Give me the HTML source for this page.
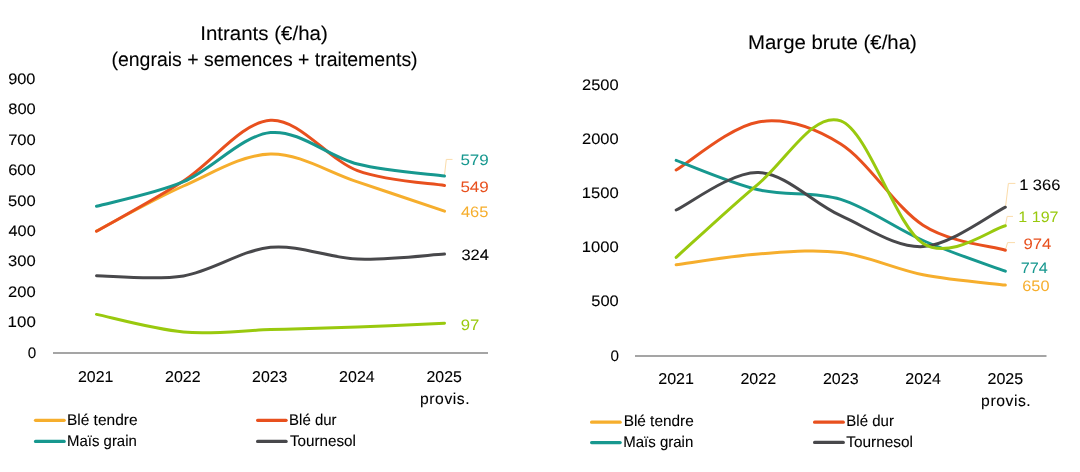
<!DOCTYPE html>
<html><head><meta charset="utf-8"><style>
html,body{margin:0;padding:0;background:#fff;width:1080px;height:472px;overflow:hidden}
svg{display:block;will-change:transform}
text{font-family:"Liberation Sans", sans-serif;text-rendering:geometricPrecision}
</style></head><body>
<svg width="1080" height="472" viewBox="0 0 1080 472">
<rect width="1080" height="472" fill="#fff"/>
<line x1="53.0" y1="353.0" x2="488.0" y2="353.0" stroke="#a5a5a5" stroke-width="2"/>
<line x1="635.0" y1="356.0" x2="1046.5" y2="356.0" stroke="#a5a5a5" stroke-width="2"/>
<polyline points="444.4,176.1 446.3,159.4 452.5,159.4" fill="none" stroke="#fbdcaa" stroke-width="1"/>
<polyline points="1005.5,207 1008.4,183.4 1015.4,183.4" fill="none" stroke="#fbdcaa" stroke-width="1"/>
<polyline points="1005.3,225.7 1007.2,216.4 1013,216.4" fill="none" stroke="#fbdcaa" stroke-width="1"/>
<polyline points="1005.4,250 1007.6,242.6 1015,242.6" fill="none" stroke="#fbdcaa" stroke-width="1"/>
<path d="M96.50,231.00 C111.00,223.50 154.50,198.83 183.50,186.00 C212.50,173.17 241.50,154.68 270.50,154.00 C299.50,153.32 328.50,172.37 357.50,181.90 C386.50,191.43 430.00,206.32 444.50,211.20" fill="none" stroke="#f6ae2d" stroke-width="3.0" stroke-linecap="round" stroke-linejoin="round"/>
<path d="M96.50,231.30 C111.00,222.92 154.50,199.50 183.50,181.00 C212.50,162.50 241.50,122.03 270.50,120.30 C299.50,118.57 328.50,159.75 357.50,170.60 C386.50,181.45 430.00,182.93 444.50,185.40" fill="none" stroke="#e8501e" stroke-width="3.0" stroke-linecap="round" stroke-linejoin="round"/>
<path d="M96.50,206.30 C111.00,202.20 154.50,193.98 183.50,181.70 C212.50,169.42 241.50,135.55 270.50,132.60 C299.50,129.65 328.50,156.75 357.50,164.00 C386.50,171.25 430.00,174.08 444.50,176.10" fill="none" stroke="#17988f" stroke-width="3.0" stroke-linecap="round" stroke-linejoin="round"/>
<path d="M96.50,275.80 C111.00,275.82 154.50,280.65 183.50,275.90 C212.50,271.15 241.50,250.10 270.50,247.30 C299.50,244.50 328.50,257.97 357.50,259.10 C386.50,260.23 430.00,254.93 444.50,254.10" fill="none" stroke="#48484b" stroke-width="3.0" stroke-linecap="round" stroke-linejoin="round"/>
<path d="M96.50,314.40 C111.00,317.33 154.50,329.47 183.50,332.00 C212.50,334.53 241.50,330.45 270.50,329.60 C299.50,328.75 328.50,327.95 357.50,326.90 C386.50,325.85 430.00,323.90 444.50,323.30" fill="none" stroke="#99c90e" stroke-width="3.0" stroke-linecap="round" stroke-linejoin="round"/>
<path d="M676.15,264.70 C689.87,262.92 731.02,256.03 758.45,254.00 C785.88,251.97 813.32,249.03 840.75,252.50 C868.18,255.97 895.62,269.37 923.05,274.80 C950.48,280.23 991.63,283.38 1005.35,285.10" fill="none" stroke="#f6ae2d" stroke-width="3.0" stroke-linecap="round" stroke-linejoin="round"/>
<path d="M676.15,170.00 C689.87,161.98 731.02,126.22 758.45,121.90 C785.88,117.58 813.32,126.88 840.75,144.10 C868.18,161.32 895.62,207.52 923.05,225.20 C950.48,242.88 991.63,246.03 1005.35,250.20" fill="none" stroke="#e8501e" stroke-width="3.0" stroke-linecap="round" stroke-linejoin="round"/>
<path d="M676.15,160.40 C689.87,165.30 731.02,183.30 758.45,189.80 C785.88,196.30 813.32,190.95 840.75,199.40 C868.18,207.85 895.62,228.53 923.05,240.50 C950.48,252.47 991.63,266.08 1005.35,271.20" fill="none" stroke="#17988f" stroke-width="3.0" stroke-linecap="round" stroke-linejoin="round"/>
<path d="M676.15,210.00 C689.87,203.75 731.02,171.55 758.45,172.50 C785.88,173.45 813.32,203.35 840.75,215.70 C868.18,228.05 895.62,248.02 923.05,246.60 C950.48,245.18 991.63,213.77 1005.35,207.20" fill="none" stroke="#48484b" stroke-width="3.0" stroke-linecap="round" stroke-linejoin="round"/>
<path d="M676.15,257.40 C689.87,245.13 731.02,206.55 758.45,183.80 C785.88,161.05 813.32,110.97 840.75,120.90 C868.18,130.83 895.62,225.92 923.05,243.40 C950.48,260.88 991.63,228.73 1005.35,225.80" fill="none" stroke="#99c90e" stroke-width="3.0" stroke-linecap="round" stroke-linejoin="round"/>
<line x1="35.5" y1="420.3" x2="64.2" y2="420.3" stroke="#f6ae2d" stroke-width="3.2" stroke-linecap="round"/>
<line x1="35.5" y1="441.4" x2="64.2" y2="441.4" stroke="#17988f" stroke-width="3.2" stroke-linecap="round"/>
<line x1="257.6" y1="420.3" x2="286.1" y2="420.3" stroke="#e8501e" stroke-width="3.2" stroke-linecap="round"/>
<line x1="257.6" y1="441.4" x2="286.1" y2="441.4" stroke="#48484b" stroke-width="3.2" stroke-linecap="round"/>
<line x1="591.6" y1="422.2" x2="620.2" y2="422.2" stroke="#f6ae2d" stroke-width="3.2" stroke-linecap="round"/>
<line x1="591.6" y1="442.6" x2="620.2" y2="442.6" stroke="#17988f" stroke-width="3.2" stroke-linecap="round"/>
<line x1="814.6" y1="422.2" x2="843.3" y2="422.2" stroke="#e8501e" stroke-width="3.2" stroke-linecap="round"/>
<line x1="814.6" y1="442.4" x2="843.3" y2="442.4" stroke="#48484b" stroke-width="3.2" stroke-linecap="round"/>
<text x="263.98" y="40.00" font-size="19.80" fill="#000" stroke="#000" stroke-width="0.10" text-anchor="middle" textLength="127.52" lengthAdjust="spacingAndGlyphs">Intrants (€/ha)</text>
<text x="264.53" y="65.60" font-size="19.80" fill="#000" stroke="#000" stroke-width="0.10" text-anchor="middle" textLength="306.17" lengthAdjust="spacingAndGlyphs">(engrais + semences + traitements)</text>
<text x="832.43" y="48.75" font-size="19.80" fill="#000" stroke="#000" stroke-width="0.10" text-anchor="middle" textLength="168.73" lengthAdjust="spacingAndGlyphs">Marge brute (€/ha)</text>
<text x="36.13" y="358.00" font-size="15.20" fill="#000" stroke="#000" stroke-width="0.10" text-anchor="end" textLength="8.45" lengthAdjust="spacingAndGlyphs">0</text>
<text x="35.78" y="327.00" font-size="15.20" fill="#000" stroke="#000" stroke-width="0.10" text-anchor="end" textLength="28.15" lengthAdjust="spacingAndGlyphs">100</text>
<text x="35.77" y="297.00" font-size="15.20" fill="#000" stroke="#000" stroke-width="0.10" text-anchor="end" textLength="27.63" lengthAdjust="spacingAndGlyphs">200</text>
<text x="35.76" y="266.00" font-size="15.20" fill="#000" stroke="#000" stroke-width="0.10" text-anchor="end" textLength="27.64" lengthAdjust="spacingAndGlyphs">300</text>
<text x="35.70" y="236.00" font-size="15.20" fill="#000" stroke="#000" stroke-width="0.10" text-anchor="end" textLength="27.11" lengthAdjust="spacingAndGlyphs">400</text>
<text x="35.73" y="206.00" font-size="15.20" fill="#000" stroke="#000" stroke-width="0.10" text-anchor="end" textLength="27.59" lengthAdjust="spacingAndGlyphs">500</text>
<text x="35.74" y="175.00" font-size="15.20" fill="#000" stroke="#000" stroke-width="0.10" text-anchor="end" textLength="27.55" lengthAdjust="spacingAndGlyphs">600</text>
<text x="35.71" y="145.00" font-size="15.20" fill="#000" stroke="#000" stroke-width="0.10" text-anchor="end" textLength="27.56" lengthAdjust="spacingAndGlyphs">700</text>
<text x="35.71" y="114.00" font-size="15.20" fill="#000" stroke="#000" stroke-width="0.10" text-anchor="end" textLength="27.46" lengthAdjust="spacingAndGlyphs">800</text>
<text x="35.45" y="84.00" font-size="15.20" fill="#000" stroke="#000" stroke-width="0.10" text-anchor="end" textLength="27.27" lengthAdjust="spacingAndGlyphs">900</text>
<text x="619.03" y="361.00" font-size="15.20" fill="#000" stroke="#000" stroke-width="0.10" text-anchor="end" textLength="8.45" lengthAdjust="spacingAndGlyphs">0</text>
<text x="618.74" y="306.00" font-size="15.20" fill="#000" stroke="#000" stroke-width="0.10" text-anchor="end" textLength="27.48" lengthAdjust="spacingAndGlyphs">500</text>
<text x="618.78" y="252.00" font-size="15.20" fill="#000" stroke="#000" stroke-width="0.10" text-anchor="end" textLength="36.92" lengthAdjust="spacingAndGlyphs">1000</text>
<text x="618.78" y="198.00" font-size="15.20" fill="#000" stroke="#000" stroke-width="0.10" text-anchor="end" textLength="36.92" lengthAdjust="spacingAndGlyphs">1500</text>
<text x="618.68" y="144.00" font-size="15.20" fill="#000" stroke="#000" stroke-width="0.10" text-anchor="end" textLength="36.60" lengthAdjust="spacingAndGlyphs">2000</text>
<text x="618.68" y="90.00" font-size="15.20" fill="#000" stroke="#000" stroke-width="0.10" text-anchor="end" textLength="36.60" lengthAdjust="spacingAndGlyphs">2500</text>
<text x="95.64" y="382.00" font-size="15.70" fill="#000" stroke="#000" stroke-width="0.10" text-anchor="middle" textLength="35.37" lengthAdjust="spacingAndGlyphs">2021</text>
<text x="676.08" y="384.00" font-size="15.70" fill="#000" stroke="#000" stroke-width="0.10" text-anchor="middle" textLength="35.77" lengthAdjust="spacingAndGlyphs">2021</text>
<text x="182.81" y="382.00" font-size="15.70" fill="#000" stroke="#000" stroke-width="0.10" text-anchor="middle" textLength="35.60" lengthAdjust="spacingAndGlyphs">2022</text>
<text x="758.23" y="384.00" font-size="15.70" fill="#000" stroke="#000" stroke-width="0.10" text-anchor="middle" textLength="35.64" lengthAdjust="spacingAndGlyphs">2022</text>
<text x="269.79" y="382.00" font-size="15.70" fill="#000" stroke="#000" stroke-width="0.10" text-anchor="middle" textLength="35.35" lengthAdjust="spacingAndGlyphs">2023</text>
<text x="840.74" y="384.00" font-size="15.70" fill="#000" stroke="#000" stroke-width="0.10" text-anchor="middle" textLength="35.67" lengthAdjust="spacingAndGlyphs">2023</text>
<text x="356.90" y="382.00" font-size="15.70" fill="#000" stroke="#000" stroke-width="0.10" text-anchor="middle" textLength="35.59" lengthAdjust="spacingAndGlyphs">2024</text>
<text x="923.06" y="384.00" font-size="15.70" fill="#000" stroke="#000" stroke-width="0.10" text-anchor="middle" textLength="35.65" lengthAdjust="spacingAndGlyphs">2024</text>
<text x="444.19" y="382.00" font-size="15.70" fill="#000" stroke="#000" stroke-width="0.10" text-anchor="middle" textLength="35.33" lengthAdjust="spacingAndGlyphs">2025</text>
<text x="1005.37" y="384.00" font-size="15.70" fill="#000" stroke="#000" stroke-width="0.10" text-anchor="middle" textLength="35.69" lengthAdjust="spacingAndGlyphs">2025</text>
<text x="444.80" y="403.60" font-size="15.70" fill="#000" stroke="#000" stroke-width="0.10" text-anchor="middle" textLength="49.65" lengthAdjust="spacing">provis.</text>
<text x="1005.91" y="405.50" font-size="15.70" fill="#000" stroke="#000" stroke-width="0.10" text-anchor="middle" textLength="49.61" lengthAdjust="spacing">provis.</text>
<text x="460.42" y="165.00" font-size="15.10" fill="#17988f" text-anchor="start" textLength="28.41" lengthAdjust="spacingAndGlyphs">579</text>
<text x="460.42" y="192.00" font-size="15.10" fill="#e8501e" text-anchor="start" textLength="28.41" lengthAdjust="spacingAndGlyphs">549</text>
<text x="460.95" y="217.00" font-size="15.10" fill="#f6ae2d" text-anchor="start" textLength="27.41" lengthAdjust="spacingAndGlyphs">465</text>
<text x="461.42" y="260.00" font-size="15.10" fill="#000" stroke="#000" stroke-width="0.10" text-anchor="start" textLength="27.42" lengthAdjust="spacingAndGlyphs">324</text>
<text x="460.68" y="330.00" font-size="15.10" fill="#99c90e" text-anchor="start" textLength="18.60" lengthAdjust="spacingAndGlyphs">97</text>
<text x="1019.15" y="190.00" font-size="15.10" fill="#000" stroke="#000" stroke-width="0.10" text-anchor="start" textLength="41.21" lengthAdjust="spacingAndGlyphs">1 366</text>
<text x="1018.35" y="222.00" font-size="15.10" fill="#99c90e" text-anchor="start" textLength="40.15" lengthAdjust="spacingAndGlyphs">1 197</text>
<text x="1023.56" y="249.00" font-size="15.10" fill="#e8501e" text-anchor="start" textLength="27.87" lengthAdjust="spacingAndGlyphs">974</text>
<text x="1020.74" y="273.00" font-size="15.10" fill="#17988f" text-anchor="start" textLength="27.10" lengthAdjust="spacingAndGlyphs">774</text>
<text x="1022.31" y="291.00" font-size="15.10" fill="#f6ae2d" text-anchor="start" textLength="27.18" lengthAdjust="spacingAndGlyphs">650</text>
<text x="66.93" y="424.90" font-size="15.40" fill="#000" stroke="#000" stroke-width="0.10" text-anchor="start" textLength="70.64" lengthAdjust="spacingAndGlyphs">Blé tendre</text>
<text x="67.02" y="446.00" font-size="15.40" fill="#000" stroke="#000" stroke-width="0.10" text-anchor="start" textLength="69.82" lengthAdjust="spacingAndGlyphs">Maïs grain</text>
<text x="289.10" y="424.90" font-size="15.40" fill="#000" stroke="#000" stroke-width="0.10" text-anchor="start" textLength="47.45" lengthAdjust="spacingAndGlyphs">Blé dur</text>
<text x="289.88" y="446.00" font-size="15.40" fill="#000" stroke="#000" stroke-width="0.10" text-anchor="start" textLength="66.02" lengthAdjust="spacingAndGlyphs">Tournesol</text>
<text x="623.65" y="426.40" font-size="15.40" fill="#000" stroke="#000" stroke-width="0.10" text-anchor="start" textLength="70.07" lengthAdjust="spacingAndGlyphs">Blé tendre</text>
<text x="623.19" y="446.70" font-size="15.40" fill="#000" stroke="#000" stroke-width="0.10" text-anchor="start" textLength="70.07" lengthAdjust="spacingAndGlyphs">Maïs grain</text>
<text x="846.35" y="426.40" font-size="15.40" fill="#000" stroke="#000" stroke-width="0.10" text-anchor="start" textLength="47.61" lengthAdjust="spacingAndGlyphs">Blé dur</text>
<text x="846.26" y="446.70" font-size="15.40" fill="#000" stroke="#000" stroke-width="0.10" text-anchor="start" textLength="66.73" lengthAdjust="spacingAndGlyphs">Tournesol</text>
</svg>
</body></html>
